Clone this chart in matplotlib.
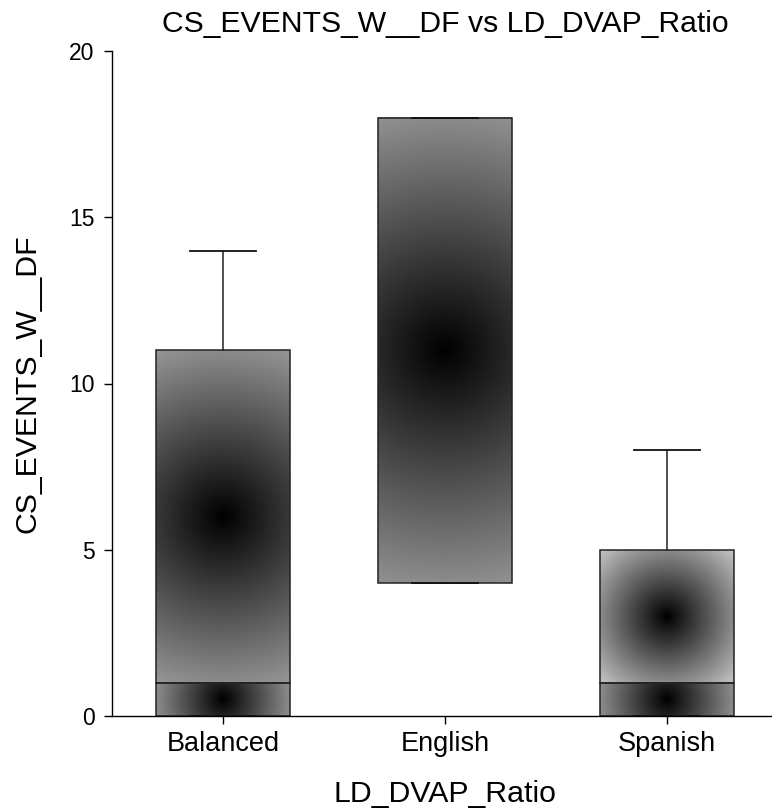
import numpy as np
import matplotlib
matplotlib.use("Agg")
import matplotlib.pyplot as plt
from matplotlib.patches import Rectangle

plt.rcParams['font.family'] = ['Liberation Sans', 'DejaVu Sans']

# box statistics
categories = ["Balanced", "English", "Spanish"]
q1 = [0, 4, 0]
medians = [1, 18, 1]
q3 = [11, 18, 5]
whisker_lo = [0, 4, 0]
whisker_hi = [14, 18, 8]
y_ticks = [0, 5, 10, 15, 20]

W, H, DPI = 772, 811, 100
fig = plt.figure(figsize=(W / DPI, H / DPI), dpi=DPI)
ax_left, ax_bottom = 112 / W, (H - 716) / H
ax_w, ax_h = 666 / W, 665 / H
ax = fig.add_axes([ax_left, ax_bottom, ax_w, ax_h])
ax.set_xlim(-0.5, 2.5)
ax.set_ylim(0, 20)

px_x = ax_w * W / 3.0     # pixels per x unit
px_y = ax_h * H / 20.0    # pixels per y unit
box_w = 0.6


def gradient_box(x0, y0, y1):
    """Radial black-to-grey fill drawn as an image inside the box."""
    if y1 <= y0:
        return
    wpx = box_w * px_x
    hpx = (y1 - y0) * px_y
    nx, ny = max(int(wpx), 2), max(int(hpx), 2)
    xs = (np.arange(nx) + 0.5) - nx / 2
    ys = (np.arange(ny) + 0.5) - ny / 2
    xx, yy = np.meshgrid(xs, ys)
    r = max(wpx, hpx) / 2
    g = np.clip(0.55 * np.hypot(xx, yy) / r, 0, 1)
    ax.imshow(np.dstack([g, g, g]), extent=(x0 - box_w / 2, x0 + box_w / 2, y0, y1),
              origin="lower", aspect="auto", interpolation="bilinear", zorder=2)
    ax.add_patch(Rectangle((x0 - box_w / 2, y0), box_w, y1 - y0, fill=False,
                           edgecolor="#222222", linewidth=1.1, zorder=3))


for i, cat in enumerate(categories):
    gradient_box(i, q1[i], medians[i])
    gradient_box(i, medians[i], q3[i])
    # whiskers and caps
    ax.plot([i, i], [q3[i], whisker_hi[i]], color="#222222", lw=1.1, zorder=4)
    ax.plot([i, i], [whisker_lo[i], q1[i]], color="#222222", lw=1.1, zorder=4)
    for v in (whisker_lo[i], whisker_hi[i]):
        ax.plot([i - box_w / 4, i + box_w / 4], [v, v], color="#111111", lw=1.3, zorder=4)

ax.set_xlim(-0.5, 2.5)
ax.set_ylim(0, 20)
ax.set_xticks(range(len(categories)))
ax.set_xticklabels(categories)
ax.set_yticks(y_ticks)
ax.tick_params(direction="out", length=6, width=1)
ax.tick_params(axis="x", labelsize=19.5, pad=5)
ax.tick_params(axis="y", labelsize=16.5, pad=6.5)
for s in ("top", "right"):
    ax.spines[s].set_visible(False)
for s in ("left", "bottom"):
    ax.spines[s].set_linewidth(1.0)

ax.set_title("CS_EVENTS_W__DF vs LD_DVAP_Ratio", fontsize=21.7, pad=14)
ax.set_xlabel("LD_DVAP_Ratio", fontsize=21.8, labelpad=16)
ax.set_ylabel("CS_EVENTS_W__DF", fontsize=21.8, labelpad=20)

fig.savefig("out.png", dpi=DPI)
